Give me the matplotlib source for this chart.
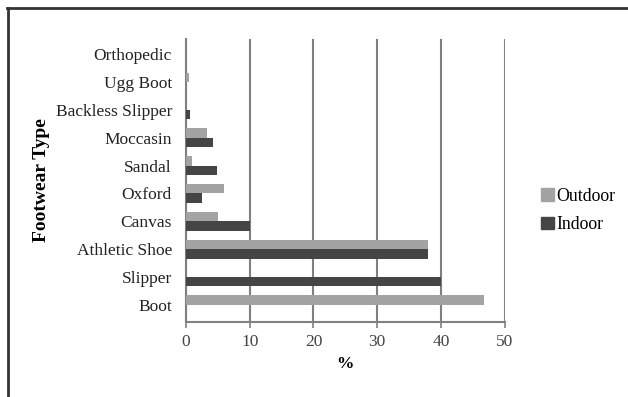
import matplotlib.pyplot as plt
from matplotlib.lines import Line2D
from matplotlib.patches import Patch
import numpy as np

categories = ['Boot', 'Slipper', 'Athletic Shoe', 'Canvas', 'Oxford', 'Sandal',
              'Moccasin', 'Backless Slipper', 'Ugg Boot', 'Orthopedic']
outdoor = [46.7, 0, 38, 5, 6, 0.9, 3.3, 0, 0.5, 0]
indoor = [0, 40, 38, 10, 2.6, 4.8, 4.2, 0.7, 0, 0]
xticks = [0, 10, 20, 30, 40, 50]

plt.rcParams['font.family'] = ['Liberation Serif', 'DejaVu Serif']

c_out = '#a3a3a3'
c_in = '#454545'

fig = plt.figure(figsize=(6.28, 3.97), dpi=100)
ax = fig.add_axes([0.296, 0.189, 0.508, 0.713])

y = np.arange(len(categories))
h = 0.34
ax.barh(y + h / 2, outdoor, height=h, color=c_out, zorder=3)
ax.barh(y - h / 2, indoor, height=h, color=c_in, zorder=3)

ax.set_xlim(0, 50)
ax.set_ylim(-0.62, 9.55)
ax.set_xticks(xticks)
ax.set_yticks(y)
ax.set_yticklabels(categories)
ax.tick_params(axis='both', labelsize=12.5, colors='#222222', length=0)
ax.tick_params(axis='x', length=4, color='#808080', width=1.2, pad=5)
ax.tick_params(axis='y', pad=10)
for lab in ax.get_xticklabels():
    lab.set_color('#444444')

ax.grid(axis='x', color='#808080', linewidth=1.5, zorder=0)
for s in ['top', 'right']:
    ax.spines[s].set_visible(False)
ax.spines['left'].set_color('#808080')
ax.spines['left'].set_linewidth(1.5)
ax.spines['bottom'].set_color('#808080')
ax.spines['bottom'].set_linewidth(1.5)

ax.set_xlabel('%', fontsize=12.5, fontweight='bold', labelpad=4)
ax.set_ylabel('Footwear Type', fontsize=14, fontweight='bold')
ax.yaxis.set_label_coords(-0.425, 0.5)

handles = [Patch(color=c_out, label='Outdoor'), Patch(color=c_in, label='Indoor')]
fig.legend(handles=handles, loc='center left', bbox_to_anchor=(0.848, 0.47),
           frameon=False, fontsize=12.8, handlelength=0.7, handleheight=0.7,
           handletextpad=0.15, labelspacing=0.65, borderpad=0)

# outer frame: left and top only
fig.add_artist(Line2D([0.012, 0.012], [0, 0.98], transform=fig.transFigure,
                      color='#333333', linewidth=2))
fig.add_artist(Line2D([0.011, 1.0], [0.98, 0.98], transform=fig.transFigure,
                      color='#333333', linewidth=2))

fig.savefig('out.png', dpi=100)
